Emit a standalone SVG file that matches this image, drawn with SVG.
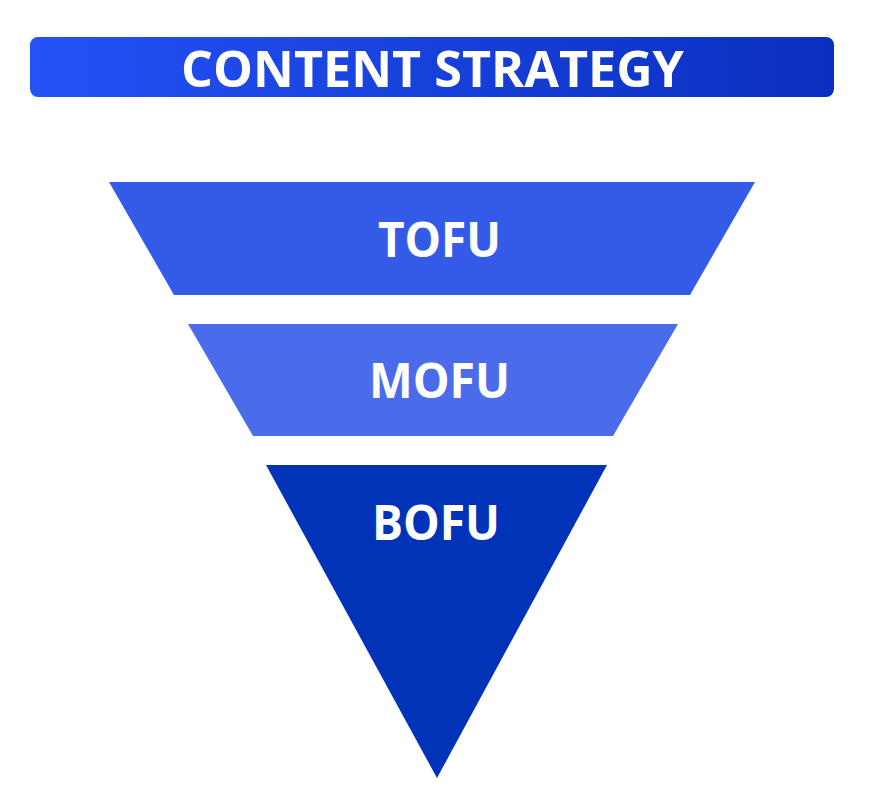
<svg xmlns="http://www.w3.org/2000/svg" width="872" height="812" viewBox="0 0 872 812">
  <defs>
    <linearGradient id="hdr" x1="0" y1="0" x2="1" y2="0">
      <stop offset="0" stop-color="#2452F6"/>
      <stop offset="1" stop-color="#0A2FBE"/>
    </linearGradient>
  </defs>
  <style>
    .lbl { font-family: "Open Sans", "Liberation Sans", sans-serif; font-weight: 700; fill: #ffffff; text-anchor: middle; }
  </style>
  <rect width="872" height="812" fill="#ffffff"/>
  <g id="header">
    <rect x="30" y="37" width="804" height="60" rx="8" fill="url(#hdr)"/>
    <text class="lbl" x="432.5" y="87" font-size="51" textLength="503" lengthAdjust="spacingAndGlyphs">CONTENT STRATEGY</text>
  </g>
  <g id="tofu">
    <polygon points="109,182 755,182 690,295 174,295" fill="#345BE8"/>
    <text class="lbl" x="439.5" y="257" font-size="48" textLength="123" lengthAdjust="spacingAndGlyphs">TOFU</text>
  </g>
  <g id="mofu">
    <polygon points="188,324 678,324 613,436 253,436" fill="#4A6CEA"/>
    <text class="lbl" x="439.5" y="398" font-size="48" textLength="141" lengthAdjust="spacingAndGlyphs">MOFU</text>
  </g>
  <g id="bofu">
    <polygon points="266,465 607,465 437,778" fill="#0033B8"/>
    <text class="lbl" x="436" y="540" font-size="48" textLength="128" lengthAdjust="spacingAndGlyphs">BOFU</text>
  </g>
  <g id="connectors"/>
</svg>
